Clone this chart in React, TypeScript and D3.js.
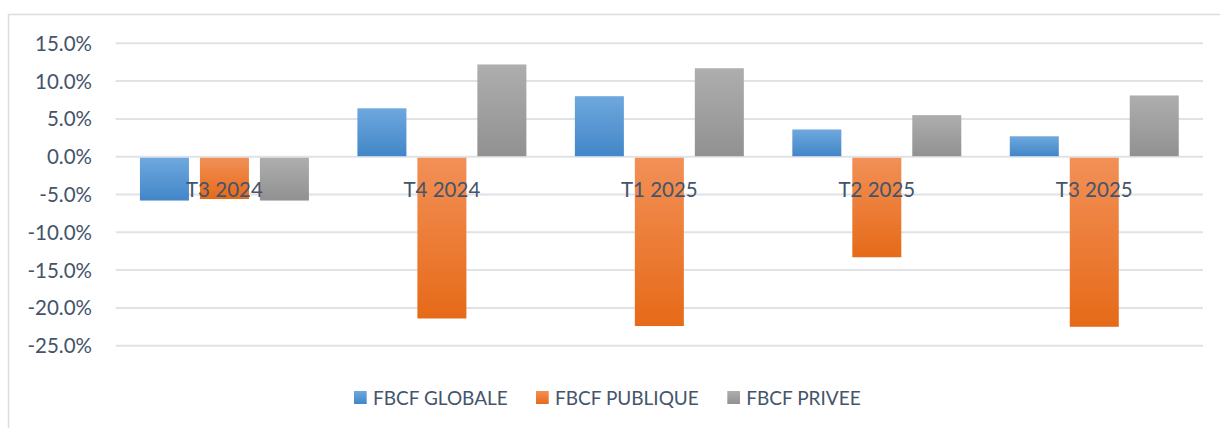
import React, { useEffect, useRef } from 'react';
import * as d3 from 'd3';

const categories = ['T3 2024', 'T4 2024', 'T1 2025', 'T2 2025', 'T3 2025'];
const seriesNames = ['FBCF GLOBALE', 'FBCF PUBLIQUE', 'FBCF PRIVEE'];
const globale = [-5.8, 6.4, 8.0, 3.6, 2.7];
const publique = [-5.6, -21.4, -22.4, -13.3, -22.5];
const privee = [-5.8, 12.2, 11.7, 5.5, 8.1];
const yTicks = [15, 10, 5, 0, -5, -10, -15, -20, -25];

const seriesValues = [globale, publique, privee];
const gradients = [
  ['#6ea8de', '#4286c8'],
  ['#f29057', '#e66a18'],
  ['#aeaeae', '#919191'],
];

const W = 1220;
const H = 428;
const textColor = '#44546a';
const font = 'Lato, "Open Sans", sans-serif';

export default function App() {
  const ref = useRef<SVGSVGElement>(null);

  useEffect(() => {
    const svg = d3.select(ref.current);
    svg.selectAll('*').remove();

    const y = d3.scaleLinear().domain([-25, 15]).range([345.7, 43.3]);
    const x0 = d3.scaleBand().domain(categories).range([115.7, 1203]).paddingInner(0.223).paddingOuter(0.1115);
    const x1 = d3.scaleBand().domain(seriesNames).range([0, x0.bandwidth()]).paddingInner(0.183).paddingOuter(0);

    const defs = svg.append('defs');
    gradients.forEach((g, i) => {
      const lg = defs.append('linearGradient')
        .attr('id', `grad${i}`)
        .attr('x1', 0).attr('y1', 0).attr('x2', 0).attr('y2', 1);
      lg.append('stop').attr('offset', '0%').attr('stop-color', g[0]);
      lg.append('stop').attr('offset', '100%').attr('stop-color', g[1]);
    });

    // frame
    svg.append('rect')
      .attr('x', 8.5).attr('y', 14.5)
      .attr('width', W).attr('height', H)
      .attr('fill', '#fff')
      .attr('stroke', '#d9dde2')
      .attr('stroke-width', 1.5);

    // gridlines
    svg.append('g').selectAll('line')
      .data(yTicks)
      .enter().append('line')
      .attr('x1', 115.7).attr('x2', 1203)
      .attr('y1', d => y(d)).attr('y2', d => y(d))
      .attr('stroke', '#dfe2e7')
      .attr('stroke-width', 2);

    // y labels
    svg.append('g').selectAll('text')
      .data(yTicks)
      .enter().append('text')
      .attr('x', 92)
      .attr('y', d => y(d) + 7.5)
      .attr('text-anchor', 'end')
      .attr('font-family', font)
      .attr('font-size', 20.5)
      .attr('fill', textColor)
      .text(d => `${d.toFixed(1)}%`);

    // bars
    seriesNames.forEach((s, si) => {
      svg.append('g').selectAll('rect')
        .data(seriesValues[si])
        .enter().append('rect')
        .attr('x', (d, i) => (x0(categories[i]) ?? 0) + (x1(s) ?? 0))
        .attr('width', x1.bandwidth())
        .attr('y', d => d >= 0 ? y(d) : y(0) + 1)
        .attr('height', d => d >= 0 ? y(0) - y(d) - 0.5 : y(d) - y(0) - 1)
        .attr('fill', `url(#grad${si})`);
    });

    // category labels
    svg.append('g').selectAll('text')
      .data(categories)
      .enter().append('text')
      .attr('x', d => (x0(d) ?? 0) + x0.bandwidth() / 2)
      .attr('y', y(0) + 40.5)
      .attr('text-anchor', 'middle')
      .attr('font-family', font)
      .attr('font-size', 20.5)
      .attr('fill', textColor)
      .text(d => d);

    // legend
    const legendX = [354, 536, 727.3];
    const lg = svg.append('g');
    seriesNames.forEach((s, i) => {
      lg.append('rect')
        .attr('x', legendX[i]).attr('y', 391)
        .attr('width', 12.7).attr('height', 13)
        .attr('fill', `url(#grad${i})`);
      lg.append('text')
        .attr('x', legendX[i] + 19)
        .attr('y', 405)
        .attr('font-family', font)
        .attr('font-size', 19)
        .attr('fill', textColor)
        .text(s);
    });
  }, []);

  return (
    <svg ref={ref} width={W} height={H} style={{ position: 'absolute', left: 0, top: 0, background: '#fff' }} />
  );
}
